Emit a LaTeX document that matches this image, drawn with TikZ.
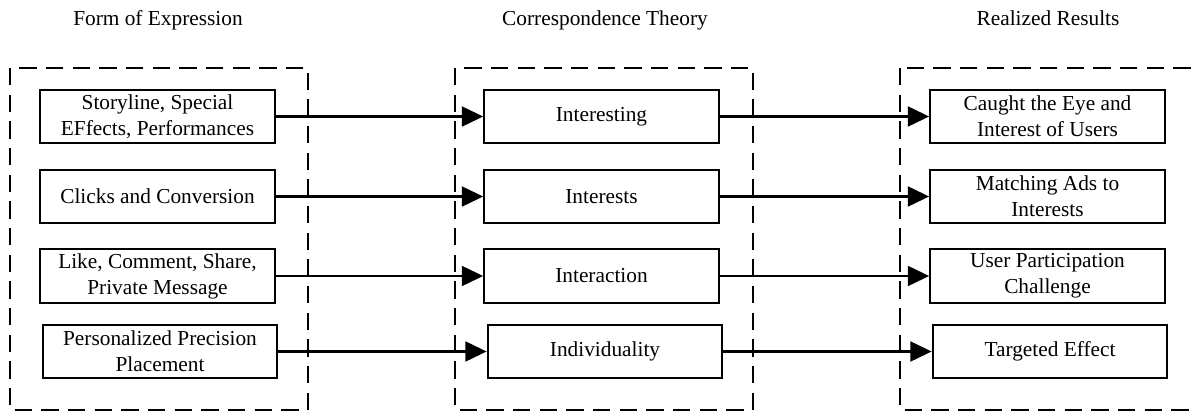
\documentclass[tikz,border=0pt]{standalone}
\usepackage{fontspec}
\setmainfont{Liberation Serif}
\usetikzlibrary{arrows.meta}
\begin{document}
\begin{tikzpicture}[x=0.75pt,y=-0.75pt,
  box/.style={draw,line width=1.6pt,minimum width=176pt,minimum height=40pt,inner sep=0pt,align=center,font=\fontsize{16}{19.5}\selectfont},
  heading/.style={anchor=base,font=\fontsize{16}{19.5}\selectfont},
  frame/.style={line width=1.8pt,dash pattern=on 13pt off 7pt},
  link/.style={line width=1.7pt,-{Triangle[length=16pt,width=15pt]}}]
\useasboundingbox (0,0) rectangle (1193,413);
\clip (0,0) rectangle (1193,413);
% headings
\node[heading] (hform) at (158,26) {Form of Expression};
\node[heading] (htheory) at (605,26) {Correspondence Theory};
\node[heading] (hresult) at (1048,26) {Realized Results};
% dashed frames
\draw[frame] (10,68) rectangle (308,410);
\draw[frame] (455,68) rectangle (753,410);
\draw[frame] (900,68) rectangle (1210,410);
% form of expression
\node[box] (form1) at (157.5,116.5) {Storyline, Special\\EFfects, Performances};
\node[box] (form2) at (157.5,196.5) {Clicks and Conversion};
\node[box] (form3) at (157.5,276) {Like, Comment, Share,\\Private Message};
\node[box] (form4) at (160,351.5) {Personalized Precision\\Placement};
% correspondence theory
\node[box] (theory1) at (601.5,116.5) {Interesting};
\node[box] (theory2) at (601.5,196.5) {Interests};
\node[box] (theory3) at (601.5,276) {Interaction};
\node[box] (theory4) at (605,351.5) {Individuality};
% realized results
\node[box] (result1) at (1047.5,116.5) {Caught the Eye and\\Interest of Users};
\node[box] (result2) at (1047.5,196.5) {Matching Ads to\\Interests};
\node[box] (result3) at (1047.5,276) {User Participation\\Challenge};
\node[box] (result4) at (1050,351.5) {Targeted Effect};
% arrows
\draw[link] (form1) -- (theory1);
\draw[link] (form2) -- (theory2);
\draw[link] (form3) -- (theory3);
\draw[link] (form4) -- (theory4);
\draw[link] (theory1) -- (result1);
\draw[link] (theory2) -- (result2);
\draw[link] (theory3) -- (result3);
\draw[link] (theory4) -- (result4);
\end{tikzpicture}
\end{document}
